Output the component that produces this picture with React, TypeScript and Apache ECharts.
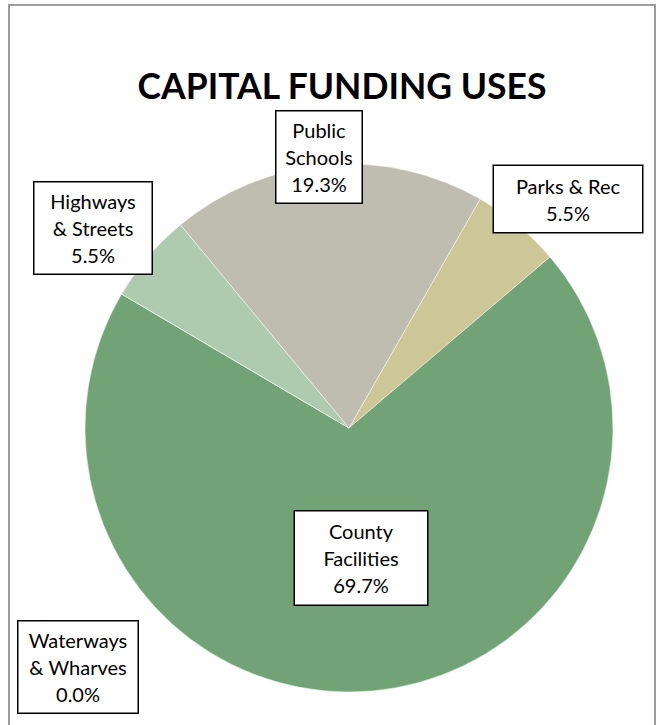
import React, { useEffect, useRef } from "react";
import * as echarts from "echarts";

const categories = ["Parks & Rec", "County Facilities", "Waterways & Wharves", "Highways & Streets", "Public Schools"];
const labelNames = ["Parks & Rec", "County\nFacilities", "Waterways\n& Wharves", "Highways\n& Streets", "Public\nSchools"];
const shares = [5.5, 69.7, 0.0, 5.5, 19.3];
const colors = ["#CDC696", "#71A377", "#8FB8C9", "#AECBAF", "#BFBDAF"];
const labelCenters: [number, number][] = [
  [568, 199],
  [361, 558],
  [78, 667],
  [93, 228],
  [319, 157],
];
const labelBoxes: [number, number][] = [
  [146, 6],
  [130, 6],
  [117, 5],
  [115, 5],
  [83, 5],
];

export default function App() {
  const ref = useRef<HTMLDivElement>(null);
  useEffect(() => {
    if (!ref.current) return;
    const chart = echarts.init(ref.current, null, { renderer: "svg" });
    chart.setOption({
      animation: false,
      backgroundColor: "#ffffff",
      title: {
        text: "CAPITAL FUNDING USES",
        left: 337,
        top: 62,
        textAlign: "center",
        textStyle: { fontFamily: "Lato", fontWeight: "bold", fontSize: 35.5, color: "#000" },
      },
      graphic: [
        {
          type: "rect",
          shape: { x: 9, y: 5, width: 646, height: 740 },
          style: { fill: "none", stroke: "#9E9E9E", lineWidth: 2 },
          z: -1,
        },
      ],
      series: [
        {
          type: "pie",
          center: [349, 428],
          radius: 264,
          startAngle: 60.2,
          clockwise: true,
          avoidLabelOverlap: false,
          itemStyle: { borderColor: "#ffffff", borderWidth: 0.5 },
          label: {
            show: true,
            position: "outside",
            formatter: (p: any) => `${labelNames[p.dataIndex]}\n${shares[p.dataIndex].toFixed(1)}%`,
            fontFamily: "Lato",
            fontSize: 20,
            lineHeight: 27,
            color: "#000",
            backgroundColor: "#ffffff",
            borderColor: "#000",
            borderWidth: 1.5,
            align: "center",
            verticalAlign: "middle",
          },
          labelLine: { show: false },
          labelLayout: (p: any) => {
            const c = labelCenters[p.dataIndex];
            return { x: c[0], y: c[1], align: "center", verticalAlign: "middle" };
          },
          emphasis: { disabled: true },
          data: categories.map((name, i) => ({
            name,
            value: shares[i],
            itemStyle: { color: colors[i] },
            label: {
              width: labelBoxes[i][0],
              padding: [labelBoxes[i][1], 1, labelBoxes[i][1], 1],
            },
          })),
        },
      ],
    });
    return () => chart.dispose();
  }, []);
  return <div ref={ref} style={{ position: "fixed", left: 0, top: 0, width: 658, height: 725 }} />;
}
